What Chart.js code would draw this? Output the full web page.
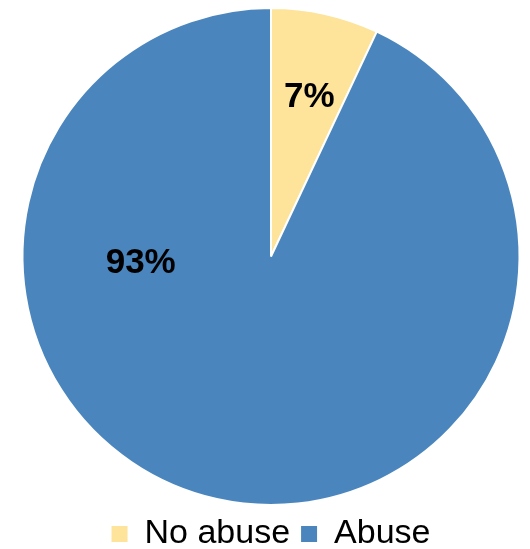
<!DOCTYPE html>
<html>
<head>
<meta charset="utf-8">
<script src="https://cdn.jsdelivr.net/npm/chart.js@4"></script>
<style>
  body { margin: 0; background: #fff; }
  #wrap { width: 530px; height: 549px; }
</style>
</head>
<body>
<div id="wrap"><canvas id="myChart"></canvas></div>
<script>
var categories = ["No abuse", "Abuse"];
var shares = [7, 93];
var sliceLabels = ["7%", "93%"];

// where each label sits: angle (deg, clockwise from top) and fraction of radius
var labelPlace = [{ angle: 13.5, r: 0.66 }, { angle: -93, r: 0.525 }];

var sliceLabelPlugin = {
  id: 'sliceLabels',
  afterDatasetsDraw: function (chart) {
    var ctx = chart.ctx;
    var meta = chart.getDatasetMeta(0);
    ctx.save();
    ctx.font = 'bold 35px "Liberation Sans", Arial, sans-serif';
    ctx.fillStyle = '#000';
    ctx.textAlign = 'center';
    ctx.textBaseline = 'middle';
    meta.data.forEach(function (arc, i) {
      var p = labelPlace[i];
      var a = p.angle * Math.PI / 180;
      var x = arc.x + Math.sin(a) * arc.outerRadius * p.r;
      var y = arc.y - Math.cos(a) * arc.outerRadius * p.r;
      ctx.fillText(sliceLabels[i], x, y);
    });
    ctx.restore();
  }
};

// legend box is a bit tighter than Chart.js makes it
var legendFitPlugin = {
  id: 'legendFit',
  beforeInit: function (chart) {
    var orig = chart.legend.fit;
    chart.legend.fit = function () {
      orig.call(this);
      this.height -= 12;
    };
  }
};

var ctx = document.getElementById("myChart").getContext('2d');

var myChart = new Chart(ctx, {
  type: 'pie',
  data: {
    labels: categories,
    datasets: [{
      data: shares,
      backgroundColor: ['#FDE49A', '#4A86BD'],
      borderColor: '#ffffff',
      borderWidth: 2
    }]
  },
  options: {
    responsive: true,
    maintainAspectRatio: false,
    animation: false,
    layout: { padding: { top: 7, left: 12, right: 0, bottom: 0 } },
    plugins: {
      tooltip: { enabled: false },
      legend: {
        position: 'bottom',
        labels: {
          boxWidth: 16,
          boxHeight: 16,
          padding: 11,
          color: '#000',
          font: { family: '"Liberation Sans", Arial, sans-serif', size: 34 },
          generateLabels: function (chart) {
            var items = Chart.overrides.pie.plugins.legend.labels.generateLabels(chart);
            items.forEach(function (it) { it.lineWidth = 0; });
            return items;
          }
        }
      }
    }
  },
  plugins: [sliceLabelPlugin, legendFitPlugin]
});
</script>
</body>
</html>
